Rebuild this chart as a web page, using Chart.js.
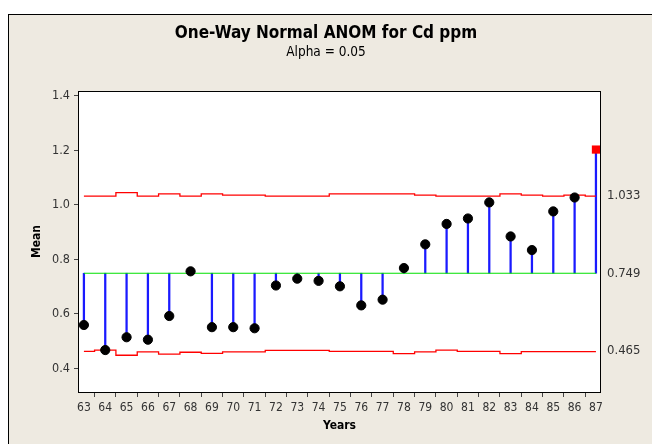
<!DOCTYPE html>
<html><head><meta charset="utf-8">
<script src="https://cdn.jsdelivr.net/npm/chart.js@4"></script>
<style>
html,body{margin:0;padding:0;background:#fff;overflow:hidden;}
#frame{position:absolute;left:8px;top:14px;width:644px;height:430px;background:#EEEAE1;border-left:1px solid #000;border-top:1px solid #000;}
#wrap{position:absolute;left:0;top:0;width:652px;height:444px;}
</style></head><body>
<div id="frame"></div>
<div id="wrap"><canvas id="c" width="652" height="444"></canvas></div>
<script>
const years = [63,64,65,66,67,68,69,70,71,72,73,74,75,76,77,78,79,80,81,82,83,84,85,86,87];
const means = [0.559,0.467,0.514,0.505,0.592,0.756,0.551,0.551,0.547,0.704,0.729,0.721,0.701,0.631,0.652,0.768,0.855,0.930,0.950,1.009,0.884,0.834,0.976,1.027,1.203];
const upperLimit = [1.032,1.032,1.045,1.032,1.040,1.032,1.040,1.036,1.036,1.032,1.032,1.032,1.040,1.040,1.040,1.040,1.036,1.032,1.032,1.032,1.040,1.036,1.032,1.036,1.032];
const lowerLimit = [0.462,0.467,0.448,0.460,0.452,0.459,0.455,0.460,0.460,0.466,0.466,0.466,0.462,0.462,0.462,0.454,0.460,0.467,0.462,0.462,0.454,0.461,0.461,0.461,0.461];
const centerLine = 0.749;
const limitLabels = [0.465, 0.749, 1.033];
const yTicks = [0.4, 0.6, 0.8, 1.0, 1.2, 1.4];
const outOfLimits = [87];

const FONT = "'DejaVu Sans Condensed','Liberation Sans',Arial,sans-serif";

const frameBox = {
  id: 'frameBox',
  beforeDatasetsDraw(chart) {
    const a = chart.chartArea, ctx = chart.ctx;
    ctx.save();
    ctx.fillStyle = '#fff';
    ctx.fillRect(a.left, a.top, a.right - a.left, a.bottom - a.top);
    ctx.restore();
  },
  afterDatasetsDraw(chart) {
    const a = chart.chartArea, ctx = chart.ctx;
    ctx.save();
    ctx.strokeStyle = '#000';
    ctx.lineWidth = 1;
    ctx.strokeRect(Math.round(a.left) - 0.5, Math.round(a.top) + 0.5, Math.round(a.right - a.left) + 1, Math.round(a.bottom - a.top));
    ctx.restore();
  }
};

const pts = years.map((x, i) => ({x, y: means[i]}));
const stems = years.map((x, i) => ({x, y: [centerLine, means[i]]}));

new Chart(document.getElementById('c'), {
  type: 'bar',
  data: {
    datasets: [
      {
        type: 'scatter', data: pts, order: 0,
        pointStyle: years.map(y => outOfLimits.includes(y) ? 'rect' : 'circle'),
        pointRadius: years.map(y => outOfLimits.includes(y) ? 5.8 : 4.6),
        pointBackgroundColor: years.map(y => outOfLimits.includes(y) ? '#FF0000' : '#000000'),
        pointBorderColor: years.map(y => outOfLimits.includes(y) ? '#FF0000' : '#000000'),
        pointBorderWidth: years.map(y => outOfLimits.includes(y) ? 0 : 1),
        showLine: false
      },
      {
        type: 'bar', data: stems, order: 3,
        backgroundColor: '#1a1aff', borderWidth: 0, barThickness: 1.6,
        grouped: false
      },
      {
        type: 'line', data: years.map((x, i) => ({x, y: upperLimit[i]})), order: 2,
        stepped: 'middle', borderColor: '#FF0000', borderWidth: 1.3, pointRadius: 0, fill: false
      },
      {
        type: 'line', data: years.map((x, i) => ({x, y: lowerLimit[i]})), order: 2,
        stepped: 'middle', borderColor: '#FF0000', borderWidth: 1.3, pointRadius: 0, fill: false
      },
      {
        type: 'line', data: [{x: years[0], y: centerLine}, {x: years[years.length - 1], y: centerLine}], order: 2,
        borderColor: '#00E000', borderWidth: 1.2, pointRadius: 0, fill: false
      }
    ]
  },
  options: {
    responsive: false,
    animation: false,
    devicePixelRatio: 1,
    layout: {padding: 0},
    plugins: {
      legend: {display: false},
      tooltip: {enabled: false},
      title: {
        display: true, text: 'One-Way Normal ANOM for Cd ppm', color: '#000',
        font: {family: FONT, size: 17, weight: 'bold', lineHeight: 1.2},
        padding: {top: 23.8, bottom: 0}
      },
      subtitle: {
        display: true, text: 'Alpha = 0.05', color: '#000',
        font: {family: FONT, size: 13.5, lineHeight: 1.2},
        padding: {top: 0, bottom: 30.6}
      }
    },
    scales: {
      x: {
        type: 'linear', position: 'bottom', min: 62.77, max: 87.19, offset: false,
        afterBuildTicks: s => { s.ticks = years.map(v => ({value: v})); },
        afterFit: s => { s.height = 52; },
        ticks: {color: '#333', font: {family: FONT, size: 12}, padding: 4, maxRotation: 0, autoSkip: false,
          callback: v => String(v)},
        grid: {drawOnChartArea: false, drawTicks: true, tickLength: 5, color: '#444'},
        border: {display: false},
        title: {display: true, text: 'Years', color: '#000', font: {family: FONT, size: 12, weight: 'bold', lineHeight: 1.2},
          padding: {top: 0, bottom: 10.8}}
      },
      y: {
        type: 'linear', position: 'left', min: 0.313, max: 1.418,
        afterBuildTicks: s => { s.ticks = yTicks.map(v => ({value: v})); },
        afterFit: s => { s.width = 79; },
        ticks: {color: '#333', font: {family: FONT, size: 12.5}, padding: 4, callback: v => v.toFixed(1)},
        grid: {drawOnChartArea: false, drawTicks: true, tickLength: 5, color: '#444'},
        border: {display: false},
        title: {display: true, text: 'Mean', color: '#000', font: {family: FONT, size: 12, weight: 'bold', lineHeight: 1.2},
          padding: {top: 29.8, bottom: 0}}
      },
      y2: {
        type: 'linear', position: 'right', min: 0.313, max: 1.418,
        afterBuildTicks: s => { s.ticks = limitLabels.map(v => ({value: v})); },
        afterFit: s => { s.width = 52; },
        ticks: {color: '#333', font: {family: FONT, size: 13}, padding: 7, callback: v => v.toFixed(3)},
        grid: {display: false, drawTicks: false},
        border: {display: false}
      }
    }
  },
  plugins: [frameBox]
});
</script>
</body></html>
